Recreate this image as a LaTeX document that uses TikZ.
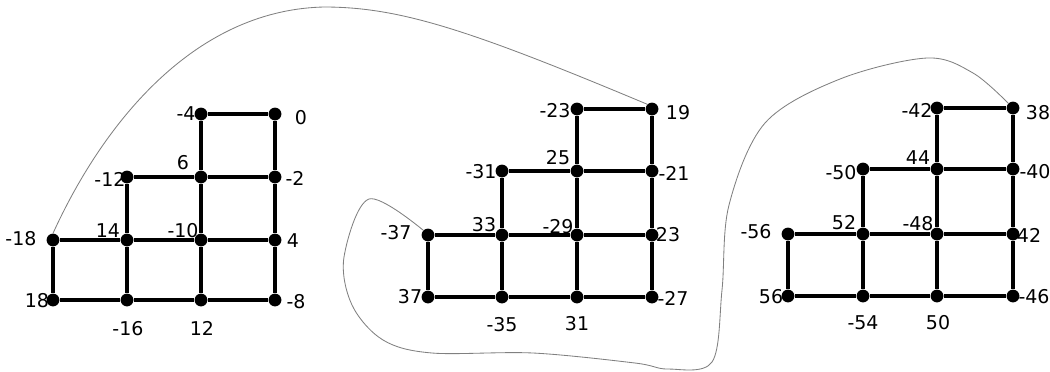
\documentclass[tikz,border=0pt]{standalone}
\usepackage{fontspec}
\setmainfont{DejaVu Sans}

\begin{document}
\begin{tikzpicture}[
          x=0.025cm, y=-0.025cm,
          dot/.style={circle, fill=black, inner sep=0pt, minimum size=0.32cm},
          num/.style={inner sep=0pt, font=\fontsize{13.5}{15}\selectfont},
          edge/.style={draw, line width=3.2pt},
          loopline/.style={draw, gray, line width=0.6pt}
      ]
        \useasboundingbox (0,0) rectangle (1050,371);
        % first grid
        \node[dot] (a1) at (201,114) {};
        \node[dot] (a2) at (275,114) {};
        \node[dot] (a3) at (127,177) {};
        \node[dot] (a4) at (201,177) {};
        \node[dot] (a5) at (275,177) {};
        \node[dot] (a6) at (53,240) {};
        \node[dot] (a7) at (127,240) {};
        \node[dot] (a8) at (201,240) {};
        \node[dot] (a9) at (275,240) {};
        \node[dot] (a10) at (53,300) {};
        \node[dot] (a11) at (127,300) {};
        \node[dot] (a12) at (201,300) {};
        \node[dot] (a13) at (275,300) {};
        \path[edge] (a1) -- (a2) -- (a5) -- (a9) -- (a13) -- (a12) -- (a11) -- (a10) -- (a6) -- (a7) -- (a3) -- (a4) -- (a1);
        \path[edge] (a4) -- (a5);
        \path[edge] (a7) -- (a8) -- (a9);
        \path[edge] (a7) -- (a11);
        \path[edge] (a4) -- (a8) -- (a12);
        \node[num] (la1) at (186,114) {-4};
        \node[num] (la2) at (301,118) {0};
        \node[num] (la3) at (110,179) {-12};
        \node[num] (la4) at (183,163) {6};
        \node[num] (la5) at (295,178) {-2};
        \node[num] (la6) at (21,239) {-18};
        \node[num] (la7) at (108,231) {14};
        \node[num] (la8) at (183,231) {-10};
        \node[num] (la9) at (293,241) {4};
        \node[num] (la10) at (37,301) {18};
        \node[num] (la11) at (128,329) {-16};
        \node[num] (la12) at (202,328) {12};
        \node[num] (la13) at (296,302) {-8};
        % second grid
        \node[dot] (b1) at (577,109) {};
        \node[dot] (b2) at (652,109) {};
        \node[dot] (b3) at (502,171) {};
        \node[dot] (b4) at (577,171) {};
        \node[dot] (b5) at (652,171) {};
        \node[dot] (b6) at (428,235) {};
        \node[dot] (b7) at (502,235) {};
        \node[dot] (b8) at (577,235) {};
        \node[dot] (b9) at (652,235) {};
        \node[dot] (b10) at (428,297) {};
        \node[dot] (b11) at (502,297) {};
        \node[dot] (b12) at (577,297) {};
        \node[dot] (b13) at (652,297) {};
        \path[edge] (b1) -- (b2) -- (b5) -- (b9) -- (b13) -- (b12) -- (b11) -- (b10) -- (b6) -- (b7) -- (b3) -- (b4) -- (b1);
        \path[edge] (b4) -- (b5);
        \path[edge] (b7) -- (b8) -- (b9);
        \path[edge] (b7) -- (b11);
        \path[edge] (b4) -- (b8) -- (b12);
        \node[num] (lb1) at (555,111) {-23};
        \node[num] (lb2) at (678,113) {19};
        \node[num] (lb3) at (481,172) {-31};
        \node[num] (lb4) at (558,158) {25};
        \node[num] (lb5) at (674,173) {-21};
        \node[num] (lb6) at (396,233) {-37};
        \node[num] (lb7) at (484,225) {33};
        \node[num] (lb8) at (558,227) {-29};
        \node[num] (lb9) at (668,235) {23};
        \node[num] (lb10) at (410,297) {37};
        \node[num] (lb11) at (502,325) {-35};
        \node[num] (lb12) at (577,324) {31};
        \node[num] (lb13) at (673,298) {-27};
        % third grid
        \node[dot] (c1) at (937,108) {};
        \node[dot] (c2) at (1013,108) {};
        \node[dot] (c3) at (863,169) {};
        \node[dot] (c4) at (937,169) {};
        \node[dot] (c5) at (1013,169) {};
        \node[dot] (c6) at (788,234) {};
        \node[dot] (c7) at (863,234) {};
        \node[dot] (c8) at (937,234) {};
        \node[dot] (c9) at (1013,234) {};
        \node[dot] (c10) at (788,296) {};
        \node[dot] (c11) at (863,296) {};
        \node[dot] (c12) at (937,296) {};
        \node[dot] (c13) at (1013,296) {};
        \path[edge] (c1) -- (c2) -- (c5) -- (c9) -- (c13) -- (c12) -- (c11) -- (c10) -- (c6) -- (c7) -- (c3) -- (c4) -- (c1);
        \path[edge] (c4) -- (c5);
        \path[edge] (c7) -- (c8) -- (c9);
        \path[edge] (c7) -- (c11);
        \path[edge] (c4) -- (c8) -- (c12);
        \node[num] (lc1) at (917,110) {-42};
        \node[num] (lc2) at (1038,113) {38};
        \node[num] (lc3) at (841,173) {-50};
        \node[num] (lc4) at (918,158) {44};
        \node[num] (lc5) at (1035,172) {-40};
        \node[num] (lc6) at (756,232) {-56};
        \node[num] (lc7) at (844,223) {52};
        \node[num] (lc8) at (918,224) {-48};
        \node[num] (lc9) at (1029,235) {42};
        \node[num] (lc10) at (771,297) {56};
        \node[num] (lc11) at (863,323) {-54};
        \node[num] (lc12) at (938,323) {50};
        \node[num] (lc13) at (1034,297) {-46};
        % thin curves
        \path[loopline] (a6.north) .. controls (100,130) and (190,10) .. (324,7)
              .. controls (400,7) and (470,30) .. (b2.north west);
        \path[loopline] plot[smooth, tension=0.55] coordinates {(b6.north west) (369,199) (344,257) (352,305)
              (383,340) (432,353) (533,353) (635,363) (668,369) (712,362) (722,290) (729,205)
              (765,123) (840,79) (927,58) (973,73) (c2.north west)};
      \end{tikzpicture}
\end{document}
